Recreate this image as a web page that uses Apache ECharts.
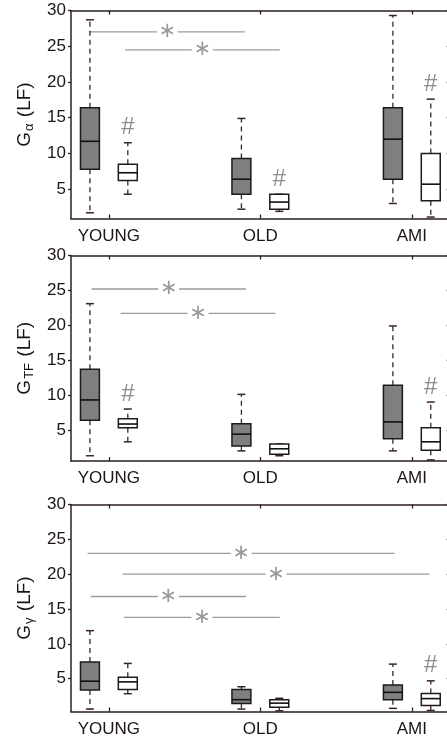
<!DOCTYPE html>
<html>
<head>
<meta charset="utf-8">
<script src="https://cdn.jsdelivr.net/npm/echarts@6/dist/echarts.min.js"></script>
<style>
html,body{margin:0;padding:0;background:#fff;overflow:hidden;}
#chart{width:447px;height:737px;}
</style>
</head>
<body>
<div id="chart"></div>
<script>
// ---- data ----
const categories = ['YOUNG', 'OLD', 'AMI'];
const yTickValues = [5, 10, 15, 20, 25, 30];
const yMaxValue = 30;
const yMinValues = [0.9, 0.55, 0.3];

// each box: [min, q1, median, q3, max]
const alphaGray  = [[1.7, 7.8, 11.7, 16.4, 28.7], [2.2, 4.3, 6.4, 9.3, 14.9], [3.0, 6.4, 12.0, 16.4, 29.3]];
const alphaWhite = [[4.3, 6.2, 7.3, 8.5, 11.5], [1.9, 2.2, 3.2, 4.3, 4.3], [1.1, 3.4, 5.7, 10.0, 17.6]];
const alphaHash  = [0, 1, 2];
const alphaSig   = [[0.875, 1.897, 27.0], [1.106, 2.128, 24.5]];

const tfGray  = [[1.3, 6.4, 9.3, 13.7, 23.1], [2.0, 2.7, 4.4, 5.9, 10.1], [2.0, 3.75, 6.15, 11.4, 19.9]];
const tfWhite = [[3.3, 5.3, 5.85, 6.6, 8.0], [1.3, 1.5, 2.3, 3.0, 3.0], [0.7, 2.1, 3.3, 5.3, 9.0]];
const tfHash  = [0, 2];
const tfSig   = [[0.886, 1.904, 25.2], [1.078, 2.099, 21.7]];

const gammaGray  = [[0.65, 3.4, 4.65, 7.4, 11.9], [0.65, 1.45, 2.0, 3.45, 3.85], [0.75, 2.0, 3.05, 4.1, 7.1]];
const gammaWhite = [[2.85, 3.45, 4.55, 5.2, 7.2], [0.4, 0.9, 1.5, 2.0, 2.2], [0.45, 1.15, 2.15, 2.9, 4.7]];
const gammaHash  = [2];
const gammaSig   = [[0.860, 2.886, 23.0], [1.091, 3.117, 20.0], [0.880, 1.904, 16.8], [1.101, 2.128, 13.8]];

const yNames = [['G', 'α'], ['G', 'TF'], ['G', 'γ']];

// ---- styling ----
const FONT = 'Liberation Sans, Arial, sans-serif';
const AX = '#2a1f24';
const TXT = '#1c1418';
const WHISK = '#3a2329';
const EDGE = '#1e1a1c';
const GRAYFILL = '#7f7f7f';
const SIGC = '#9a9a9a';
const BOX_W = 0.125;
const GROUP_OFF = 0.125;

const panels = [
  {gray: alphaGray, white: alphaWhite, hash: alphaHash, sig: alphaSig},
  {gray: tfGray, white: tfWhite, hash: tfHash, sig: tfSig},
  {gray: gammaGray, white: gammaWhite, hash: gammaHash, sig: gammaSig}
];
const gridLayout = [
  {top: 10.5, height: 208},
  {top: 255.5, height: 205.5},
  {top: 504.5, height: 207}
];

function renderBox(fill) {
  return function (params, api) {
    const x = api.value(0);
    const pMin = api.coord([x, api.value(1)]);
    const pQ1 = api.coord([x, api.value(2)]);
    const pMed = api.coord([x, api.value(3)]);
    const pQ3 = api.coord([x, api.value(4)]);
    const pMax = api.coord([x, api.value(5)]);
    const half = api.size([BOX_W, 0])[0] / 2;
    const cx = pMed[0];
    const dash = {stroke: WHISK, lineWidth: 1.3, lineDash: [5, 4]};
    const solid = {stroke: WHISK, lineWidth: 1.5};
    return {
      type: 'group',
      children: [
        {type: 'line', shape: {x1: cx, y1: pQ3[1], x2: cx, y2: pMax[1]}, style: dash},
        {type: 'line', shape: {x1: cx, y1: pQ1[1], x2: cx, y2: pMin[1]}, style: dash},
        {type: 'line', shape: {x1: cx - 4, y1: pMax[1], x2: cx + 4, y2: pMax[1]}, style: solid},
        {type: 'line', shape: {x1: cx - 4, y1: pMin[1], x2: cx + 4, y2: pMin[1]}, style: solid},
        {type: 'rect', shape: {x: cx - half, y: pQ3[1], width: 2 * half, height: pQ1[1] - pQ3[1]},
          style: {fill: fill, stroke: EDGE, lineWidth: 1.5}},
        {type: 'line', shape: {x1: cx - half, y1: pMed[1], x2: cx + half, y2: pMed[1]},
          style: {stroke: '#111', lineWidth: 1.6}}
      ]
    };
  };
}

function renderSig(params, api) {
  const p1 = api.coord([api.value(0), api.value(2)]);
  const p2 = api.coord([api.value(1), api.value(2)]);
  const mid = (p1[0] + p2[0]) / 2;
  const gap = 10.5;
  const st = {stroke: SIGC, lineWidth: 1.3};
  return {
    type: 'group',
    children: [
      {type: 'line', shape: {x1: p1[0], y1: p1[1], x2: mid - gap, y2: p1[1]}, style: st},
      {type: 'line', shape: {x1: mid + gap, y1: p1[1], x2: p2[0], y2: p1[1]}, style: st},
      {type: 'text', style: {text: '∗', x: mid, y: p1[1], align: 'center', verticalAlign: 'middle',
        fontSize: 21, fontFamily: 'DejaVu Sans', fill: SIGC}}
    ]
  };
}

function renderHash(params, api) {
  const p = api.coord([api.value(0), api.value(1)]);
  return {
    type: 'text',
    style: {text: '#', x: p[0], y: p[1] - 15, align: 'center', verticalAlign: 'middle',
      fontSize: 24, fontFamily: FONT, fill: '#8c8c8c'}
  };
}

const grids = [], xAxes = [], yAxes = [], series = [];
panels.forEach(function (pn, i) {
  grids.push({left: 71, right: -2.7, top: gridLayout[i].top, height: gridLayout[i].height,
    outerBoundsMode: 'none', containLabel: false});
  const xBase = {gridIndex: i, type: 'value', min: 0.75, max: 3.25,
    axisLine: {show: true, onZero: false, lineStyle: {color: AX, width: 1.5}},
    splitLine: {show: false}};
  xAxes.push(Object.assign({}, xBase, {position: 'bottom',
    axisTick: {show: true, inside: true, length: 4, customValues: [1, 2, 3], lineStyle: {color: AX, width: 1.3}},
    axisLabel: {show: true, customValues: [1, 2, 3], formatter: function (v) { return categories[Math.round(v) - 1]; },
      color: TXT, fontSize: 17, fontFamily: FONT, margin: 9}}));
  xAxes.push(Object.assign({}, xBase, {position: 'top',
    axisTick: {show: true, inside: true, length: 4, customValues: [1, 2, 3], lineStyle: {color: AX, width: 1.3}},
    axisLabel: {show: false}}));
  const yBase = {gridIndex: i, type: 'value', min: yMinValues[i], max: yMaxValue,
    axisLine: {show: true, onZero: false, lineStyle: {color: AX, width: 1.5}},
    splitLine: {show: false}};
  yAxes.push(Object.assign({}, yBase, {position: 'left',
    axisTick: {show: true, inside: false, length: 3, customValues: yTickValues, lineStyle: {color: AX, width: 1.3}},
    axisLabel: {show: true, customValues: yTickValues, color: TXT, fontSize: 17, fontFamily: FONT, margin: 5},
    name: '{g|' + yNames[i][0] + '}{s|' + yNames[i][1] + '}{g| (LF)}',
    nameLocation: 'middle', nameRotate: 90, nameGap: 26,
    nameTextStyle: {color: TXT, fontFamily: FONT, rich: {
      g: {fontSize: 19, fontFamily: FONT, color: TXT, verticalAlign: 'top', lineHeight: 21},
      s: {fontSize: 13, fontFamily: FONT, color: TXT, verticalAlign: 'bottom', lineHeight: 13, padding: [16, 1, 0, 1]}
    }}}));
  yAxes.push(Object.assign({}, yBase, {position: 'right',
    axisTick: {show: true, inside: true, length: 3, customValues: yTickValues, lineStyle: {color: AX, width: 1.3}},
    axisLabel: {show: false}}));

  const xi = 2 * i, yi = 2 * i;
  series.push({type: 'custom', xAxisIndex: xi, yAxisIndex: yi, renderItem: renderSig, clip: false,
    encode: {x: [0, 1], y: 2}, data: pn.sig});
  series.push({type: 'custom', xAxisIndex: xi, yAxisIndex: yi, renderItem: renderBox(GRAYFILL), clip: false,
    encode: {x: 0, y: [1, 2, 3, 4, 5]},
    data: pn.gray.map(function (b, k) { return [k + 1 - GROUP_OFF].concat(b); })});
  series.push({type: 'custom', xAxisIndex: xi, yAxisIndex: yi, renderItem: renderBox('#ffffff'), clip: false,
    encode: {x: 0, y: [1, 2, 3, 4, 5]},
    data: pn.white.map(function (b, k) { return [k + 1 + GROUP_OFF].concat(b); })});
  series.push({type: 'custom', xAxisIndex: xi, yAxisIndex: yi, renderItem: renderHash, clip: false,
    encode: {x: 0, y: 1},
    data: pn.hash.map(function (k) { return [k + 1 + GROUP_OFF, pn.white[k][4]]; })});
});

const chart = echarts.init(document.getElementById('chart'), null, {renderer: 'canvas'});
chart.setOption({
  animation: false,
  backgroundColor: '#ffffff',
  grid: grids,
  xAxis: xAxes,
  yAxis: yAxes,
  series: series
});
</script>
</body>
</html>
